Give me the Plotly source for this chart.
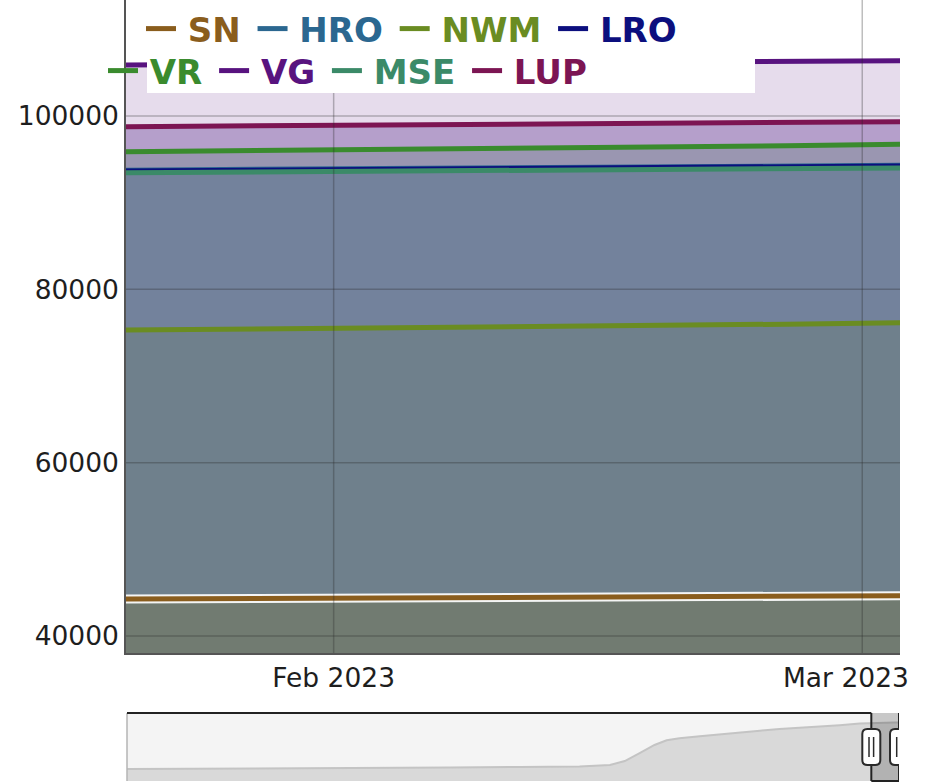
import plotly.graph_objects as go

# ---------------- data ----------------
series_names = ["SN", "HRO", "NWM", "LRO", "VR", "VG", "MSE", "LUP"]
series_colors = ["#8a5d1d", "#2b6790", "#6a8c22", "#0c0f7e",
                 "#3a8b2e", "#58137f", "#3b8a68", "#7c1553"]

window_dates = ["2023-01-21", "2023-01-28", "2023-02-04", "2023-02-11",
                "2023-02-18", "2023-02-25", "2023-03-03"]

# SN history (shown in the navigator below the chart)
sn_history_dates = ["2020-01-15", "2020-09-27", "2021-05-07", "2021-08-19",
                    "2021-11-15", "2021-12-30", "2022-01-21", "2022-02-12",
                    "2022-03-06", "2022-03-24", "2022-04-12", "2022-05-12",
                    "2022-06-11", "2022-07-10", "2022-08-09", "2022-09-07",
                    "2022-10-07", "2022-11-06", "2022-12-05", "2023-01-04"]
sn_history = [9130, 9550, 10330, 10690, 11050, 12200, 15260, 21280,
              27510, 31140, 32700, 34250, 35810, 37370, 38410, 39700,
              40480, 41520, 42560, 43860]

sn_window = [44270, 44330, 44390, 44440, 44500, 44570, 44640]
hro = [93750, 93820, 93900, 93980, 94080, 94200, 94300]
nwm = [75300, 75420, 75520, 75640, 75800, 75980, 76130]
lro = [93650, 93730, 93810, 93890, 94000, 94130, 94230]
vr = [95880, 95990, 96110, 96230, 96380, 96560, 96740]
vg = [105880, 105950, 106020, 106100, 106200, 106300, 106380]
mse = [93450, 93520, 93600, 93680, 93780, 93890, 94000]
lup = [98770, 98860, 98950, 99040, 99130, 99240, 99340]

view_start, view_end = "2023-01-21", "2023-03-03"
x_ticks = ["2023-02-01", "2023-03-01"]
x_tick_labels = ["Feb 2023", "Mar 2023"]
y_ticks = [40000, 60000, 80000, 100000]

sn_dates = sn_history_dates + window_dates
sn_values = sn_history + sn_window

series_x = [sn_dates] + [window_dates] * 7
series_y = [sn_values, hro, nwm, lro, vr, vg, mse, lup]

# fill styles (semi-transparent, overlapping "to zero" areas)
fill_colors = {
    "VG": "rgba(88,19,127,0.15)",
    "LUP": "rgba(70,20,126,0.30)",
    "VR": "rgba(92,130,120,0.30)",
    "HRO": "rgba(50,110,140,0.15)",
    "LRO": "rgba(50,90,130,0.15)",
    "MSE": "rgba(65,110,115,0.15)",
    "NWM": "rgba(100,124,100,0.28)",
    "SN": "rgba(118,112,52,0.30)",
}

W, H = 925, 784


def px(x):
    return x / W


fig = go.Figure()

order = sorted(range(len(series_names)), key=lambda i: -series_y[i][-1])
for i in order:
    fig.add_trace(go.Scatter(
        x=series_x[i], y=series_y[i], mode="lines", fill="tozeroy",
        fillcolor=fill_colors[series_names[i]],
        line=dict(width=0, color=series_colors[i]),
        showlegend=False, hoverinfo="skip"))

TS = "\u2009"
for i, (name, col, xs, ys) in enumerate(zip(series_names, series_colors, series_x, series_y)):
    if i == 0:
        fig.add_trace(go.Scatter(
            x=xs, y=ys, mode="lines",
            line=dict(width=9, color="rgba(255,255,255,0.92)"),
            showlegend=False, hoverinfo="skip"))
    fig.add_trace(go.Scatter(
        x=xs, y=ys, mode="lines",
        name=f"{TS}<span style='color:{col}'>{name}</span>{TS}",
        line=dict(width=5, color=col),
        legend="legend" if i < 4 else "legend2"))

fig.add_trace(go.Scatter(
    x=sn_dates, y=sn_values, xaxis="x2", yaxis="y2", mode="lines",
    fill="tozeroy", fillcolor="#d9d9d9", line=dict(color="#c4c4c4", width=2),
    showlegend=False, hoverinfo="skip"))

tick_font = dict(family="DejaVu Sans", size=26.5, color="#1e1e1e")
legend_common = dict(orientation="h", xanchor="left", yanchor="top",
                     bgcolor="rgba(255,255,255,0)", borderwidth=0,
                     font=dict(family="DejaVu Sans", size=34, weight="bold"))

fig.update_layout(
    width=W, height=H, autosize=False,
    margin=dict(l=0, r=0, t=0, b=0, autoexpand=False),
    paper_bgcolor="white", plot_bgcolor="white",
    xaxis=dict(domain=[px(126), px(900)], anchor="y", type="date",
               range=[view_start, view_end], tickvals=x_ticks[:1],
               ticktext=x_tick_labels[:1], showgrid=False, showline=True,
               linecolor="#555555", linewidth=1.5, ticks="",
               tickfont=tick_font, zeroline=False, automargin=False),
    yaxis=dict(domain=[1 - 653 / H, 1], anchor="x", range=[38040, 113380],
               tickvals=y_ticks, tickformat="d", showgrid=False,
               showline=True, linecolor="#555555", linewidth=1.5, ticks="",
               tickfont=tick_font, zeroline=False, automargin=False),
    xaxis2=dict(domain=[px(127), px(899)], anchor="y2", type="date",
                range=[sn_dates[0], sn_dates[-1]], visible=False,
                automargin=False),
    yaxis2=dict(domain=[3 / H, 71 / H], anchor="x2", range=[0, 51900],
                visible=False, automargin=False),
    legend=dict(x=px(141), y=1, **legend_common),
    legend2=dict(x=px(103), y=1 - 42 / H, **legend_common),
    hovermode=False,
)

# last month label, nudged left so it stays inside the page
fig.add_annotation(x=x_ticks[1], xref="x", y=1 - 653 / H, yref="paper",
                   text=x_tick_labels[1], showarrow=False, xanchor="center",
                   yanchor="top", xshift=-16, yshift=-7, font=tick_font)

grid_style = dict(color="rgba(40,40,40,0.30)", width=1.5)
shapes = []
for xv in x_ticks:
    shapes.append(dict(type="line", xref="x", yref="y domain", x0=xv, x1=xv,
                       y0=0, y1=1, line=grid_style, layer="above"))
for yv in y_ticks:
    shapes.append(dict(type="line", xref="x domain", yref="y", x0=0, x1=1,
                       y0=yv, y1=yv, line=grid_style, layer="above"))
shapes += [
    dict(type="rect", xref="paper", yref="paper", x0=px(147), x1=px(755),
         y0=1 - 93 / H, y1=1, fillcolor="white", line=dict(width=0), layer="above"),
    dict(type="rect", xref="x2 domain", yref="y2 domain", x0=0, x1=1, y0=0, y1=1,
         fillcolor="#f4f4f4", line=dict(width=0), layer="below"),
    dict(type="rect", xref="x2", yref="y2 domain", x0=view_start, x1=view_end,
         y0=0, y1=1, fillcolor="rgba(0,0,0,0.18)", line=dict(width=0), layer="above"),
    dict(type="line", xref="x2 domain", yref="y2 domain", x0=0, x1=0, y0=0, y1=1,
         line=dict(color="#b5b5b5", width=1.5)),
    dict(type="line", xref="x2", yref="y2 domain", x0=sn_dates[0], x1=view_start,
         y0=1, y1=1, line=dict(color="#222222", width=2)),
    dict(type="line", xref="x2", yref="y2 domain", x0=view_start, x1=view_start,
         y0=1, y1=0, line=dict(color="#222222", width=2)),
    dict(type="line", xref="x2", yref="y2 domain", x0=view_start, x1=view_end,
         y0=0, y1=0, line=dict(color="#222222", width=2)),
    dict(type="line", xref="x2", yref="y2 domain", x0=view_end, x1=view_end,
         y0=0, y1=1, line=dict(color="#222222", width=2)),
]
handle_path = ("M -9,13 Q -9,18 -4,18 L 4,18 Q 9,18 9,13 L 9,-13 "
               "Q 9,-18 4,-18 L -4,-18 Q -9,-18 -9,-13 Z")
grip_path = "M -2.3,-10 L -2.3,10 M 2.3,-10 L 2.3,10"
for anchor in (view_start, view_end):
    shapes.append(dict(type="path", xref="x2", yref="y2 domain",
                       xsizemode="pixel", ysizemode="pixel",
                       xanchor=anchor, yanchor=0.5, path=handle_path,
                       fillcolor="white", line=dict(color="#2a2a2a", width=2),
                       layer="above"))
    shapes.append(dict(type="path", xref="x2", yref="y2 domain",
                       xsizemode="pixel", ysizemode="pixel",
                       xanchor=anchor, yanchor=0.5, path=grip_path,
                       line=dict(color="#2a2a2a", width=1.5), layer="above"))
fig.update_layout(shapes=shapes)

fig.write_html(
    "out.html",
    config={"responsive": False, "displayModeBar": False},
    post_script="document.body.style.margin='0';document.body.style.overflow='hidden';",
)
